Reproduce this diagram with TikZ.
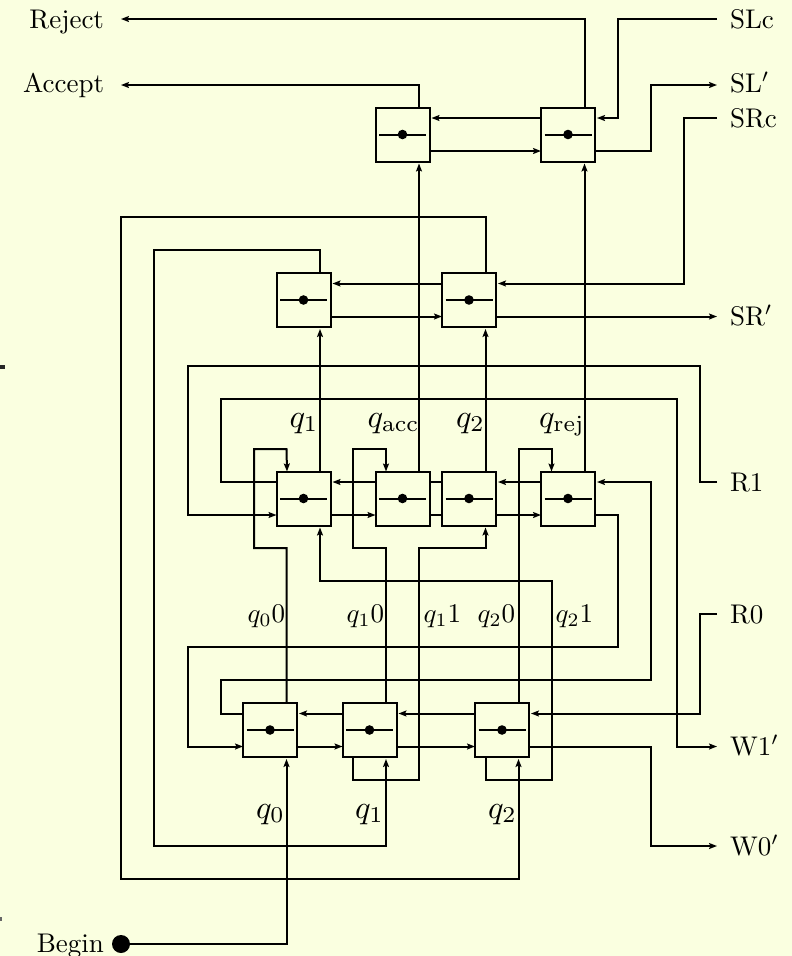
\documentclass[tikz,border=0pt]{standalone}
\usetikzlibrary{arrows.meta}
\definecolor{paper}{HTML}{FAFFE0}
\tikzset{
  wire/.style={line width=2pt,line join=miter,line cap=butt},
  arr/.style={wire,-{Stealth[length=8pt,width=6pt,inset=1.5pt]}},
  gatebox/.style={draw,line width=2pt,rectangle,minimum size=54pt,inner sep=0pt,outer sep=0pt},
  lab/.style={anchor=base,inner sep=0pt,outer sep=0pt,scale=2.7},
  biglab/.style={anchor=base,inner sep=0pt,outer sep=0pt,scale=3.24},
}
\newcommand\gate[3]{%
  \node[gatebox] (#1) at (#2,#3) {};
  \draw[wire] ([xshift=-23.5pt]#1.center) -- ([xshift=23.5pt]#1.center);
  \fill (#1.center) circle (4.8pt);
  \coordinate (#1tl) at ([xshift=-16.5pt]#1.north);
  \coordinate (#1tr) at ([xshift=16.5pt]#1.north);
  \coordinate (#1bl) at ([xshift=-16.5pt]#1.south);
  \coordinate (#1br) at ([xshift=16.5pt]#1.south);
  \coordinate (#1lu) at ([yshift=16.5pt]#1.west);
  \coordinate (#1ll) at ([yshift=-16.5pt]#1.west);
  \coordinate (#1ru) at ([yshift=16.5pt]#1.east);
  \coordinate (#1rl) at ([yshift=-16.5pt]#1.east);
}
\begin{document}
\begin{tikzpicture}[x=1pt,y=-1pt]
\fill[paper] (0,0) rectangle (792,956);
\useasboundingbox (0,0) rectangle (792,956);
\fill[black!85] (0,364.5) rectangle (5,369);
\fill[black!60] (0,917) rectangle (1.5,921);
% gates
\gate{Ta}{402.5}{134.5}
\gate{Tb}{568}{134.5}
\gate{Ma}{303.5}{300}
\gate{Mb}{469}{300}
\gate{Ra}{303.5}{498.5}
\gate{Rb}{402.5}{498.5}
\gate{Rc}{469}{498.5}
\gate{Rd}{568}{498.5}
\gate{La}{270}{730}
\gate{Lb}{369.5}{730}
\gate{Lc}{502}{730}
% free ends
\coordinate (rej) at (121,19);
\coordinate (acc) at (121,85);
\coordinate (slc) at (717,19);
\coordinate (slp) at (717,85);
\coordinate (src) at (717,118);
\coordinate (srp) at (717,316.5);
\coordinate (rone) at (717,482);
\coordinate (rzero) at (717,614);
\coordinate (wone) at (717,746.5);
\coordinate (wzero) at (717,846);
% labels
\node[lab,anchor=base east] (Lrej) at (104,28) {Reject};
\node[lab,anchor=base east] (Lacc) at (104,92) {Accept};
\node[lab,anchor=base east] (Lbeg) at (104,952) {Begin};
\node[lab,anchor=base west] (Lslc) at (730,28) {SLc};
\node[lab,anchor=base west] (Lslp) at (730,92) {SL$'$};
\node[lab,anchor=base west] (Lsrc) at (730,127) {SRc};
\node[lab,anchor=base west] (Lsrp) at (730,325) {SR$'$};
\node[lab,anchor=base west] (Lrone) at (730,491) {R1};
\node[lab,anchor=base west] (Lrzero) at (730,623) {R0};
\node[lab,anchor=base west] (Lwone) at (730,755) {W1$'$};
\node[lab,anchor=base west] (Lwzero) at (730,855) {W0$'$};
\node[biglab,anchor=base west] (Qa) at (289.5,427) {$q_1$};
\node[biglab,anchor=base west] (Qb) at (367.5,427) {$q_{\mathrm{acc}}$};
\node[biglab,anchor=base west] (Qc) at (456,427) {$q_2$};
\node[biglab,anchor=base west] (Qd) at (539,427) {$q_{\mathrm{rej}}$};
\node[lab,anchor=base west] (Sa) at (247.5,622) {$q_0 0$};
\node[lab,anchor=base west] (Sb) at (346.5,622) {$q_1 0$};
\node[lab,anchor=base west] (Sc) at (423.5,622) {$q_1 1$};
\node[lab,anchor=base west] (Sd) at (477.5,622) {$q_2 0$};
\node[lab,anchor=base west] (Se) at (555.5,622) {$q_2 1$};
\node[biglab,anchor=base west] (Ba) at (256,818) {$q_0$};
\node[biglab,anchor=base west] (Bb) at (355,818) {$q_1$};
\node[biglab,anchor=base west] (Bc) at (488,818) {$q_2$};
% begin
\node[circle,fill=black,minimum size=18pt,inner sep=0pt] (beg) at (121,944) {};
\draw[arr] (beg.center) -| ([yshift=-2pt]Labr);
% top
\draw[arr] (Tbtr) |- (rej);
\draw[arr] (Tatr) |- (acc);
\draw[arr] (slc) -| (618,118) -- ([xshift=2pt]Tbru);
\draw[arr] (Tbrl) -| (651,85) -- (slp);
\draw[arr] (src) -| (684,283.5) -- ([xshift=2pt]Mbru);
\draw[arr] (Tblu) -- ([xshift=2pt]Taru);
\draw[arr] (Tarl) -- (Tbll);
\draw[arr] (Rbtr) -- ([yshift=-2pt]Tabr);
\draw[arr] (Rdtr) -- ([yshift=-2pt]Tbbr);
% middle
\draw[arr] (Mbtr) |- (121,217) |- (518.5,879) -- ([yshift=-2pt]Lcbr);
\draw[arr] (Matr) |- (154,250) |- (386,846) -- ([yshift=-2pt]Lbbr);
\draw[arr] (Mblu) -- ([xshift=2pt]Maru);
\draw[arr] (Marl) -- (Mbll);
\draw[arr] (Mbrl) -- (srp);
\draw[arr] (Ratr) -- ([yshift=-2pt]Mabr);
\draw[arr] (Rctr) -- ([yshift=-2pt]Mbbr);
% register row
\draw[arr] (rone) -| (700,366) -| (187.5,515) -- (Rall);
\draw[arr] (Ralu) -| (221,399) -| (677,746.5) -- (wone);
\draw[arr] (Rblu) -- ([xshift=2pt]Raru);
\draw[arr] (Rarl) -- (Rbll);
\draw[wire] (Rclu) -- (Rbru);
\draw[wire] (Rbrl) -- (Rcll);
\draw[arr] (Rdlu) -- ([xshift=2pt]Rcru);
\draw[arr] (Rcrl) -- (Rdll);
\draw[arr] (Lalu) -| (221,680) -| (651,482) -- ([xshift=2pt]Rdru);
\draw[arr] (Rdrl) -| (618,647) -| (187.5,746.5) -- (Lall);
% feedback
\draw[arr] (Latr) |- (254,548) |- (286.5,449) -- (Ratl);
\draw[arr] (Lbtr) |- (353,548) |- (386,449) -- (Rbtl);
\draw[arr] (Lctr) |- (551.5,449) -- (Rdtl);
\draw[arr] (Lcbl) |- (551.5,780) |- (320,581) -- ([yshift=-2pt]Rabr);
\draw[arr] (Lbbl) |- (419,780) |- (485.5,548) -- ([yshift=-2pt]Rcbr);
% lower row
\draw[arr] (rzero) -| (700,713.5) -- ([xshift=2pt]Lcru);
\draw[arr] (Lclu) -- ([xshift=2pt]Lbru);
\draw[arr] (Lblu) -- ([xshift=2pt]Laru);
\draw[arr] (Larl) -- (Lbll);
\draw[arr] (Lbrl) -- (Lcll);
\draw[arr] (Lcrl) -| (651,846) -- (wzero);
\end{tikzpicture}
\end{document}
